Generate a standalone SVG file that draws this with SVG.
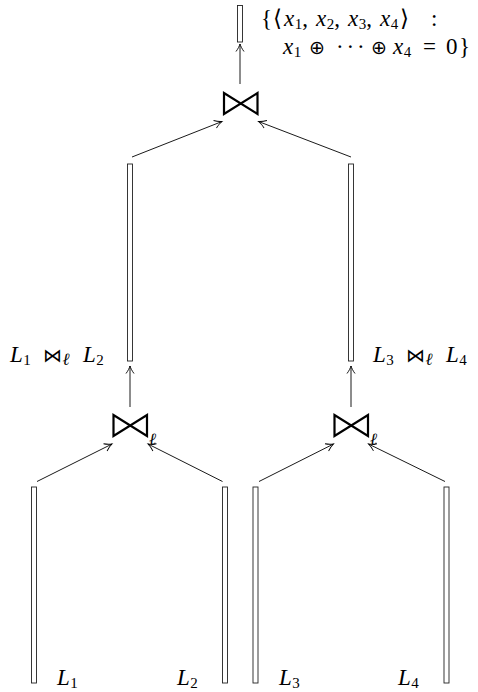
<svg xmlns="http://www.w3.org/2000/svg" width="478" height="692" viewBox="0 0 478 692">
<defs>
<marker id="to" markerUnits="userSpaceOnUse" markerWidth="14" markerHeight="12" viewBox="-10 -6 12 12" refX="0" refY="0" orient="auto" overflow="visible">
<path d="M -7.5 -4 C -4.8 -1.9 -1.9 -0.6 0 0 C -1.9 0.6 -4.8 1.9 -7.5 4" fill="none" stroke="#000" stroke-width="0.9"/>
</marker>
</defs>
<style>
.bar{fill:#fff;stroke:#222;stroke-width:0.9}
.c{stroke:#000;stroke-width:0.9;fill:none;marker-end:url(#to)}
.m{font-family:"Liberation Serif","Times New Roman",serif;font-style:italic;font-size:23px;fill:#000}
.r{font-style:normal}
.sub{font-size:15px;font-style:normal}
.op{font-family:"DejaVu Sans",sans-serif;font-style:normal;font-size:19px}
.bt{fill:none;stroke:#000;stroke-width:2.2;stroke-linejoin:miter}
.ell{font-family:"DejaVu Serif",serif;font-style:italic;font-size:17px;fill:#000}
</style>
<g id="connectors">
<line class="c" x1="240" y1="84" x2="240" y2="44"/>
<line class="c" x1="132" y1="157" x2="222" y2="121.5"/>
<line class="c" x1="351" y1="157" x2="258.5" y2="121.5"/>
<line class="c" x1="130" y1="407" x2="130" y2="366"/>
<line class="c" x1="351" y1="407" x2="351" y2="366"/>
<line class="c" x1="37" y1="481.5" x2="112" y2="444"/>
<line class="c" x1="222.5" y1="481.5" x2="148" y2="444"/>
<line class="c" x1="259" y1="481.5" x2="333.5" y2="444"/>
<line class="c" x1="445" y1="481.5" x2="368.5" y2="444"/>
</g>
<g id="result">
<rect class="bar" x="237.5" y="5.5" width="5" height="36.5"/>
<text class="m" y="26"><tspan class="r" x="261">{</tspan><tspan class="r" x="273">⟨</tspan><tspan x="284">x</tspan><tspan class="sub" dx="0.5" dy="3">1</tspan><tspan class="r" dy="-3">,</tspan><tspan x="316">x</tspan><tspan class="sub" dx="0.5" dy="3">2</tspan><tspan class="r" dy="-3">,</tspan><tspan x="348">x</tspan><tspan class="sub" dx="0.5" dy="3">3</tspan><tspan class="r" dy="-3">,</tspan><tspan x="380">x</tspan><tspan class="sub" dx="0.5" dy="3">4</tspan><tspan class="r" dx="2" dy="-3">⟩</tspan><tspan class="r" x="431">:</tspan></text>
<text class="m" y="54"><tspan x="283">x</tspan><tspan class="sub" dx="0.5" dy="3">1</tspan><tspan class="op" x="309" dy="-3">⊕</tspan><tspan class="r" x="336">·</tspan><tspan class="r" x="346.5">·</tspan><tspan class="r" x="357">·</tspan><tspan class="op" x="371">⊕</tspan><tspan x="393">x</tspan><tspan class="sub" dx="0.5" dy="3">4</tspan><tspan class="r" x="423" dy="-3">=</tspan><tspan class="r" x="446">0</tspan><tspan class="r" dx="1.5">}</tspan></text>
</g>
<g id="join-top">
<path class="bt" d="M224,93 V114 L257.5,93 V114 Z"/>
</g>
<g id="join-left">
<path class="bt" d="M113.5,415 V436 L147,415 V436 Z"/>
<text class="ell" x="149" y="445">ℓ</text>
</g>
<g id="join-right">
<path class="bt" d="M334.5,415 V436 L368,415 V436 Z"/>
<text class="ell" x="370" y="445">ℓ</text>
</g>
<g id="L12">
<rect class="bar" x="127.5" y="164" width="5" height="197"/>
<text class="m" y="362"><tspan x="10">L</tspan><tspan class="sub" dx="0.5" dy="3">1</tspan><tspan class="op" x="43" dy="-3">⋈</tspan><tspan class="ell" dx="0.5" dy="3" font-size="13">ℓ</tspan><tspan x="83" dy="-3">L</tspan><tspan class="sub" dx="0.5" dy="3">2</tspan></text>
</g>
<g id="L34">
<rect class="bar" x="348.5" y="164" width="5" height="197"/>
<text class="m" y="362"><tspan x="373">L</tspan><tspan class="sub" dx="0.5" dy="3">3</tspan><tspan class="op" x="406" dy="-3">⋈</tspan><tspan class="ell" dx="0.5" dy="3" font-size="13">ℓ</tspan><tspan x="446" dy="-3">L</tspan><tspan class="sub" dx="0.5" dy="3">4</tspan></text>
</g>
<g id="L1">
<rect class="bar" x="31.5" y="487" width="5" height="196"/>
<text class="m" y="685"><tspan x="57">L</tspan><tspan class="sub" dx="0.5" dy="3">1</tspan></text>
</g>
<g id="L2">
<rect class="bar" x="222.5" y="487" width="5" height="196"/>
<text class="m" y="685"><tspan x="177">L</tspan><tspan class="sub" dx="0.5" dy="3">2</tspan></text>
</g>
<g id="L3">
<rect class="bar" x="253" y="487" width="5" height="196"/>
<text class="m" y="685"><tspan x="279">L</tspan><tspan class="sub" dx="0.5" dy="3">3</tspan></text>
</g>
<g id="L4">
<rect class="bar" x="444" y="487" width="5" height="196"/>
<text class="m" y="685"><tspan x="398">L</tspan><tspan class="sub" dx="0.5" dy="3">4</tspan></text>
</g>
</svg>
